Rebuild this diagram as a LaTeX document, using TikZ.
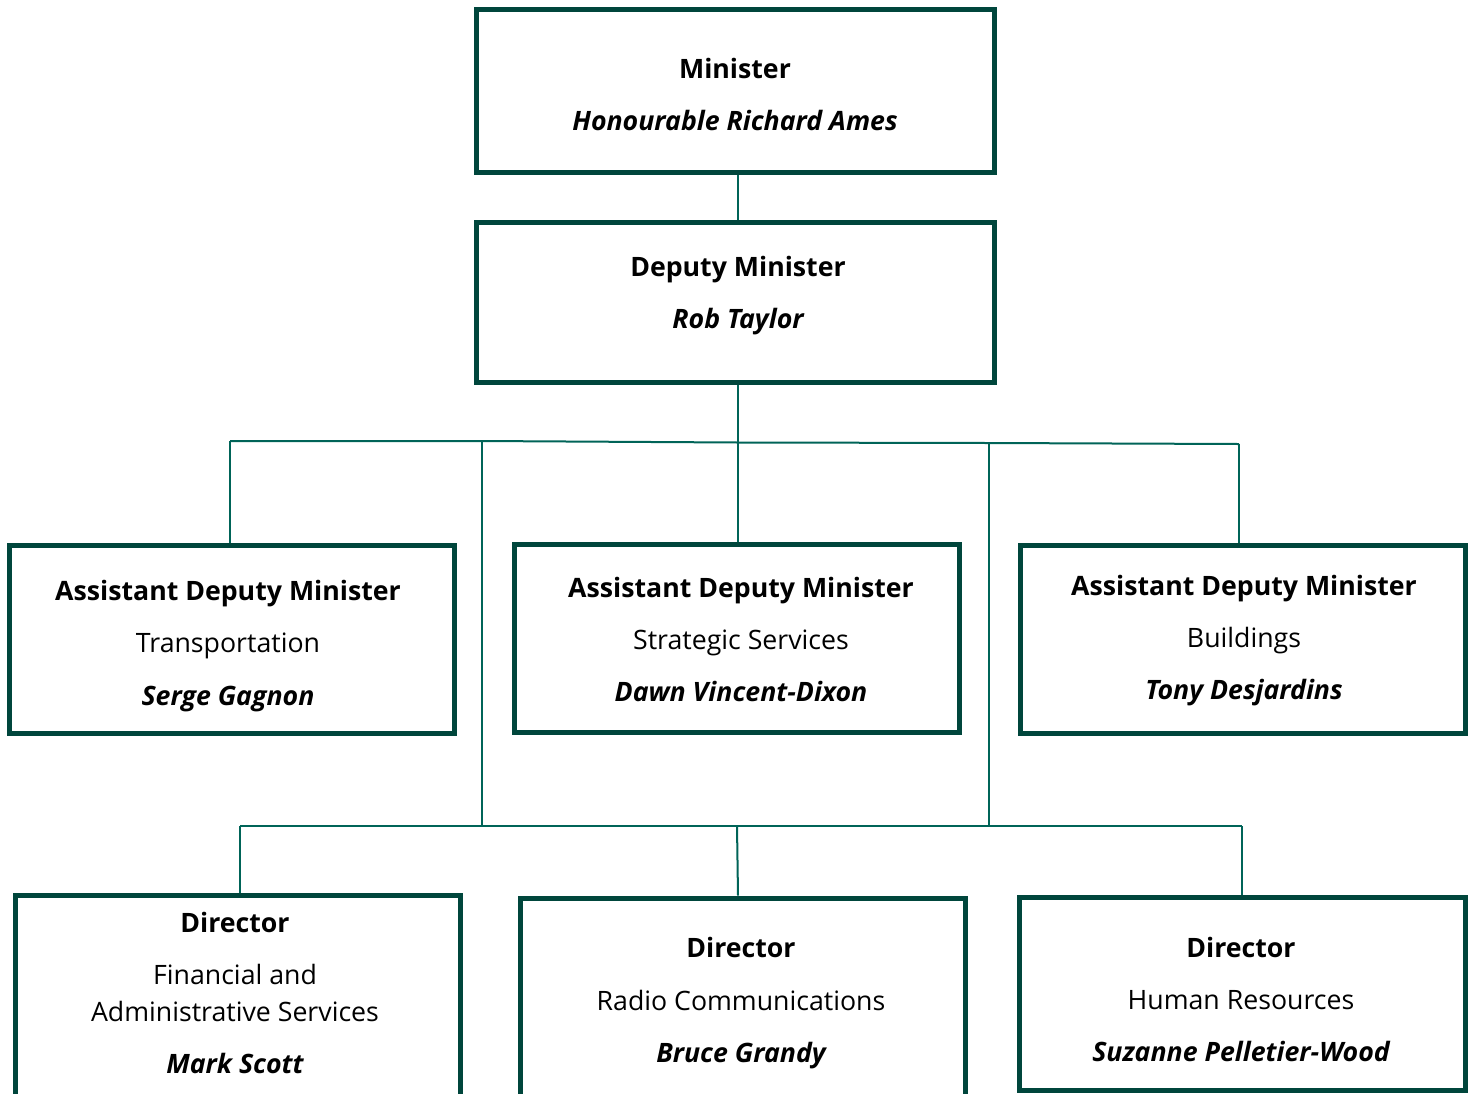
\documentclass[tikz,border=0pt]{standalone}
\usepackage{fontspec}
\setmainfont{Open Sans}
\definecolor{boxc}{RGB}{0,70,60}
\definecolor{linec}{RGB}{0,100,88}
\begin{document}
\begin{tikzpicture}[x=1pt,y=-1pt,
  box/.style={draw=boxc,line width=5pt,rectangle,inner sep=0pt,minimum width=445pt},
  conn/.style={draw=linec,line width=2pt},
  txt/.style={anchor=base,inner sep=0pt,font=\fontsize{26.7}{30}\selectfont},
  ttl/.style={txt,font=\fontsize{26.7}{30}\selectfont\bfseries},
  nm/.style={txt,font=\fontsize{26.7}{30}\selectfont\bfseries\itshape}]
\useasboundingbox (0,0) rectangle (1475,1093);
% boxes
\node[box,minimum width=518pt,minimum height=163pt] (min) at (735,90.5) {};
\node[box,minimum width=518pt,minimum height=160pt] (dep) at (735,302) {};
\node[box,minimum height=188pt] (adm1) at (231.5,639) {};
\node[box,minimum height=188pt] (adm2) at (736.5,638) {};
\node[box,minimum height=188pt] (adm3) at (1242.5,639) {};
\node[box,minimum height=215pt] (dir1) at (237.5,1002.5) {};
\node[box,minimum height=198pt] (dir2) at (742.5,997) {};
\node[box,minimum width=446pt,minimum height=193pt] (dir3) at (1242,994) {};
% texts
\node[ttl] (t1) at (735,78) {Minister};
\node[nm]  (n1) at (735,130) {Honourable Richard Ames};
\node[ttl] (t2) at (738,276) {Deputy Minister};
\node[nm]  (n2) at (738,328) {Rob Taylor};
\node[ttl] (t3) at (228,600) {Assistant Deputy Minister};
\node[txt] (s3) at (228,652) {Transportation};
\node[nm]  (n3) at (228,705) {Serge Gagnon};
\node[ttl] (t4) at (741,597) {Assistant Deputy Minister};
\node[txt] (s4) at (741,649) {Strategic Services};
\node[nm]  (n4) at (741,701) {Dawn Vincent-Dixon};
\node[ttl] (t5) at (1244,595) {Assistant Deputy Minister};
\node[txt] (s5) at (1244,647) {Buildings};
\node[nm]  (n5) at (1244,699) {Tony Desjardins};
\node[ttl] (t6) at (235,932) {Director};
\node[txt] (s6) at (235,984) {Financial and};
\node[txt] (s6b) at (235,1021) {Administrative Services};
\node[nm]  (n6) at (235,1073) {Mark Scott};
\node[ttl] (t7) at (741,957) {Director};
\node[txt] (s7) at (741,1010) {Radio Communications};
\node[nm]  (n7) at (741,1062) {Bruce Grandy};
\node[ttl] (t8) at (1241,957) {Director};
\node[txt] (s8) at (1241,1009) {Human Resources};
\node[nm]  (n8) at (1241,1061) {Suzanne Pelletier-Wood};
% junction coordinates
\coordinate (ja) at (230,441);
\coordinate (jb) at (482,441);
\coordinate (jc) at (738,442.5);
\coordinate (jd) at (989,443);
\coordinate (je) at (1239,444);
\coordinate (ka) at (240,826);
\coordinate (kb) at (482,826);
\coordinate (kc) at (737,826);
\coordinate (kd) at (989,826);
\coordinate (ke) at (1242,826);
% connectors
\draw[conn] (min.south -| jc) -- (dep.north -| jc);
\draw[conn] (dep.south -| jc) -- (adm2.north -| jc);
\draw[conn] (ja) -- (jb) -- (jc) -- (jd) -- (je);
\draw[conn] (ja) -- (adm1.north -| ja);
\draw[conn] (je) -- (adm3.north -| je);
\draw[conn] (jb) -- (kb);
\draw[conn] (jd) -- (kd);
\draw[conn] (ka) -- (ke);
\draw[conn] (ka) -- (dir1.north -| ka);
\draw[conn] (kc) -- ([xshift=1pt]dir2.north -| kc);
\draw[conn] (ke) -- (dir3.north -| ke);
\end{tikzpicture}
\end{document}
